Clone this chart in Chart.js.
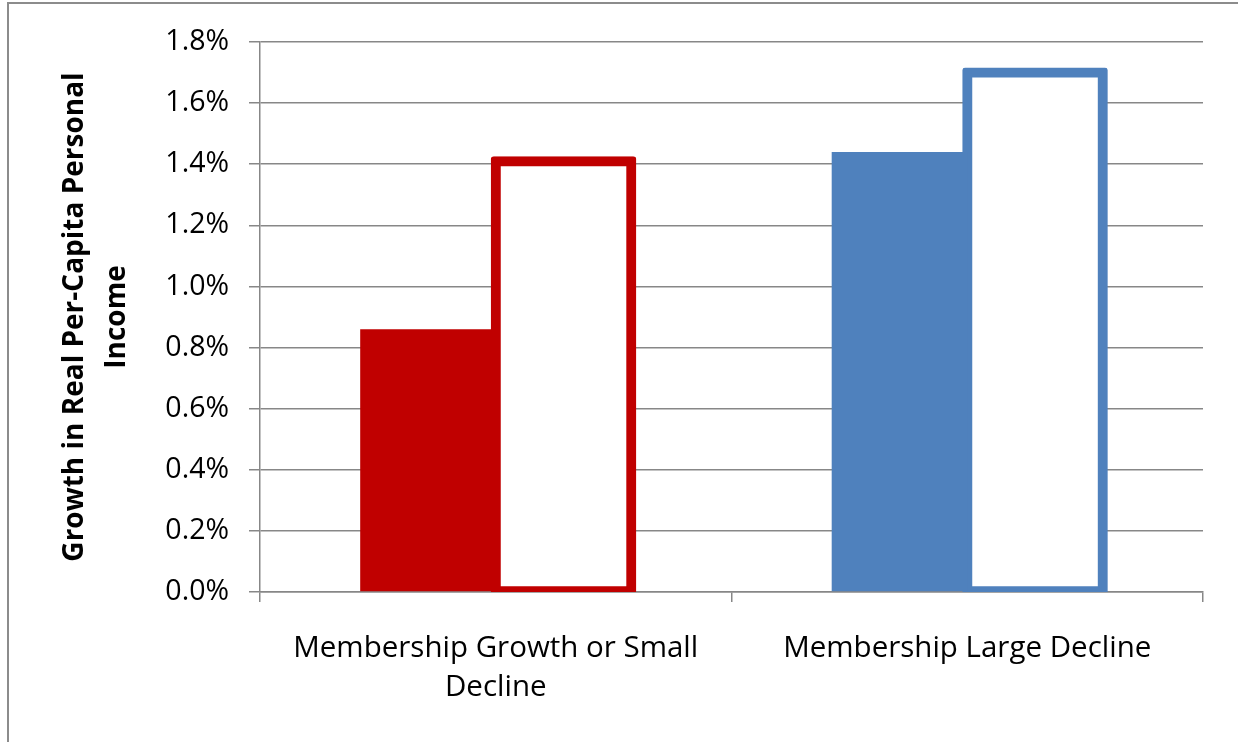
<!DOCTYPE html>
<html>
<head>
<meta charset="utf-8">
<title>Growth in Real Per-Capita Personal Income</title>
<script src="https://cdn.jsdelivr.net/npm/chart.js@4.4.1/dist/chart.umd.min.js"></script>
<style>
  html, body { margin: 0; padding: 0; background: #fff; overflow: hidden; }
  #frame { position: absolute; left: 7px; top: 2px; width: 1260px; height: 780px; border: 2px solid #8c8c8c; }
  #incomeChart { position: absolute; left: 0; top: 0; }
</style>
</head>
<body>
<div id="frame"></div>
<canvas id="incomeChart" width="1238" height="742"></canvas>
<script>
// ====== data ======
const CATEGORIES = [
  ["Membership Growth or Small", "Decline"],
  "Membership Large Decline"
];
// left bar is solid, right bar is drawn as an outline (percent)
const FILLED_VALUES  = [0.86, 1.44];
const OUTLINE_VALUES = [1.41, 1.70];
const BAR_COLORS = ["#C00000", "#4F81BD"];
const Y_TICK_LABELS = ["0.0%", "0.2%", "0.4%", "0.6%", "0.8%", "1.0%", "1.2%", "1.4%", "1.6%", "1.8%"];
const Y_TITLE = ["Growth in Real Per-Capita Personal", "Income"];

// ====== styles ======
const GRID_GRAY = "#878787";
const FONT_FAMILY = "'Open Sans', sans-serif";

new Chart(document.getElementById("incomeChart"), {
  type: "bar",
  data: {
    labels: CATEGORIES,
    datasets: [
      {
        data: FILLED_VALUES,
        backgroundColor: BAR_COLORS,
        borderWidth: 0,
        barPercentage: 1.0,
        categoryPercentage: 0.575
      },
      {
        data: OUTLINE_VALUES,
        backgroundColor: "#ffffff",
        borderColor: BAR_COLORS,
        borderWidth: 10,
        borderSkipped: false,
        borderRadius: 3,
        inflateAmount: 5,   // let the border straddle the bar edge
        barPercentage: 1.0,
        categoryPercentage: 0.575
      }
    ]
  },
  options: {
    responsive: false,
    animation: false,
    devicePixelRatio: 1,
    layout: { padding: { top: 42, right: 35, left: 0, bottom: 0 } },
    plugins: {
      legend: { display: false },
      tooltip: { enabled: false }
    },
    scales: {
      x: {
        offset: true,
        grid: {
          offset: true,
          drawOnChartArea: false,
          drawTicks: true,
          tickLength: 10,
          color: GRID_GRAY,
          lineWidth: 1.5
        },
        border: { color: GRID_GRAY, width: 1.5 },
        ticks: {
          color: "#000",
          font: { family: FONT_FAMILY, size: 29.5, lineHeight: 1.32 },
          padding: 27,
          maxRotation: 0,
          autoSkip: false
        },
        afterFit: scale => { scale.height = 150; }
      },
      y: {
        min: 0,
        max: 1.8,
        ticks: {
          stepSize: 0.2,
          color: "#000",
          font: { family: FONT_FAMILY, size: 28.5 },
          padding: 20,
          callback: (value, i) => Y_TICK_LABELS[i]
        },
        grid: { color: GRID_GRAY, lineWidth: 1.5, tickLength: 11 },
        border: { color: GRID_GRAY, width: 1.5 },
        title: {
          display: true,
          text: Y_TITLE,
          color: "#000",
          font: { family: FONT_FAMILY, size: 28, weight: "bold", lineHeight: 1.5 },
          padding: { top: 54, bottom: 0 }
        },
        afterFit: scale => { scale.width = 260; }
      }
    }
  }
});
</script>
</body>
</html>
